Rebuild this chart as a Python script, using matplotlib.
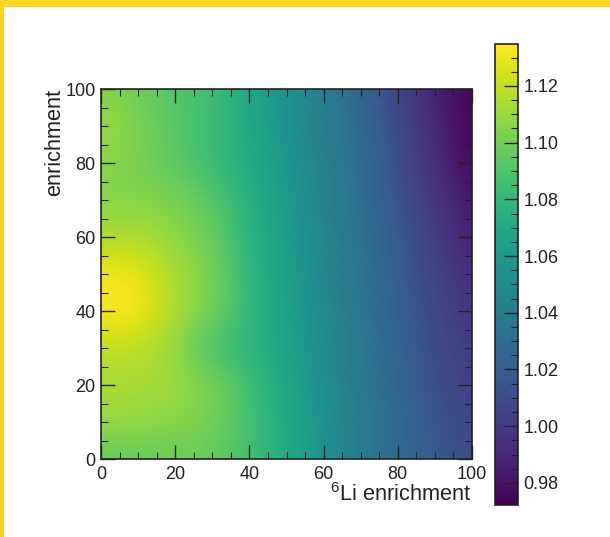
import numpy as np
import matplotlib
matplotlib.use("Agg")
import matplotlib.pyplot as plt
from matplotlib.patches import Rectangle
from matplotlib.ticker import MultipleLocator

plt.rcParams["font.family"] = ["Liberation Sans", "DejaVu Sans"]
plt.rcParams["mathtext.default"] = "regular"

# grid nodes of the map, rows go from enrichment 0 up to 100
li_enrichment = [0, 10, 20, 30, 40, 50, 60, 70, 80, 90, 100]
enrichment = [0, 10, 20, 30, 40, 50, 60, 70, 80, 90, 100]
ratio = [
    [1.095, 1.095, 1.098, 1.097, 1.086, 1.072, 1.055, 1.040, 1.028, 1.018, 1.010],
    [1.110, 1.109, 1.106, 1.101, 1.087, 1.070, 1.055, 1.040, 1.027, 1.015, 1.006],
    [1.113, 1.114, 1.111, 1.104, 1.086, 1.068, 1.053, 1.038, 1.025, 1.012, 1.003],
    [1.119, 1.118, 1.110, 1.085, 1.079, 1.065, 1.052, 1.037, 1.023, 1.010, 1.000],
    [1.134, 1.135, 1.113, 1.102, 1.081, 1.065, 1.050, 1.036, 1.022, 1.008, 0.996],
    [1.133, 1.131, 1.113, 1.103, 1.079, 1.063, 1.048, 1.034, 1.020, 1.005, 0.992],
    [1.113, 1.116, 1.107, 1.099, 1.077, 1.062, 1.047, 1.033, 1.018, 1.002, 0.986],
    [1.105, 1.105, 1.103, 1.093, 1.075, 1.060, 1.046, 1.031, 1.015, 0.998, 0.980],
    [1.106, 1.102, 1.093, 1.083, 1.072, 1.058, 1.044, 1.030, 1.012, 0.993, 0.975],
    [1.112, 1.104, 1.092, 1.085, 1.070, 1.055, 1.042, 1.028, 1.010, 0.990, 0.973],
    [1.104, 1.099, 1.090, 1.085, 1.070, 1.055, 1.042, 1.025, 1.006, 0.987, 0.973],
]
axis_ticks = [0, 20, 40, 60, 80, 100]
cbar_ticks = [0.98, 1.00, 1.02, 1.04, 1.06, 1.08, 1.10, 1.12]

W, H = 610, 537
TXT = "#222222"


def px_axes(fig, left, top, right, bottom):
    return fig.add_axes([left / W, 1 - bottom / H, (right - left) / W, (bottom - top) / H])


def style_ticks(ax, **kw):
    ax.tick_params(which="major", direction="in", length=10, width=1.0, color=TXT,
                   labelsize=13, labelcolor=TXT, **kw)
    ax.tick_params(which="minor", direction="in", length=5, width=0.8, color=TXT, **kw)


fig = plt.figure(figsize=(W / 100, H / 100), dpi=100)

# yellow slide frame, only top and left are inside the crop
fig.patches.append(Rectangle((0, 1 - 7 / H), 1, 7 / H, transform=fig.transFigure, color="#ffd320", lw=0))
fig.patches.append(Rectangle((0, 0), 4 / W, 1, transform=fig.transFigure, color="#ffd320", lw=0))

ax = px_axes(fig, 101, 89, 472, 459)
im = ax.imshow(np.array(ratio), origin="lower", cmap="viridis", vmin=0.9722, vmax=1.1348,
               extent=(li_enrichment[0] - 5, li_enrichment[-1] + 5, enrichment[0] - 5, enrichment[-1] + 5),
               interpolation="bicubic", aspect="auto")
ax.set_xlim(0, 100)
ax.set_ylim(0, 100)
ax.set_xticks(axis_ticks)
ax.set_yticks(axis_ticks)
ax.xaxis.set_minor_locator(MultipleLocator(5))
ax.yaxis.set_minor_locator(MultipleLocator(5))
style_ticks(ax, top=True, right=True)
ax.tick_params(axis="x", which="major", pad=5)
ax.tick_params(axis="y", which="major", pad=4)
for s in ax.spines.values():
    s.set_linewidth(1.2)
    s.set_color(TXT)

ax.set_xlabel("$^{6}$Li enrichment", fontsize=15.7, color=TXT, loc="right", labelpad=0)
ax.set_ylabel("enrichment", fontsize=15.7, color=TXT, loc="top", labelpad=0)

cax = px_axes(fig, 495, 44, 518, 505)
cb = fig.colorbar(im, cax=cax)
cb.set_ticks(cbar_ticks)
cb.ax.set_yticklabels([f"{v:.2f}" for v in cbar_ticks])
cb.ax.yaxis.set_minor_locator(MultipleLocator(0.005))
cb.ax.tick_params(which="major", direction="in", length=10, width=1.0, color=TXT,
                  labelsize=13, labelcolor=TXT, pad=4)
cb.ax.tick_params(which="minor", direction="in", length=5, width=0.8, color=TXT)
cb.outline.set_linewidth(1.2)
cb.outline.set_edgecolor(TXT)

fig.savefig("out.png", dpi=100)
